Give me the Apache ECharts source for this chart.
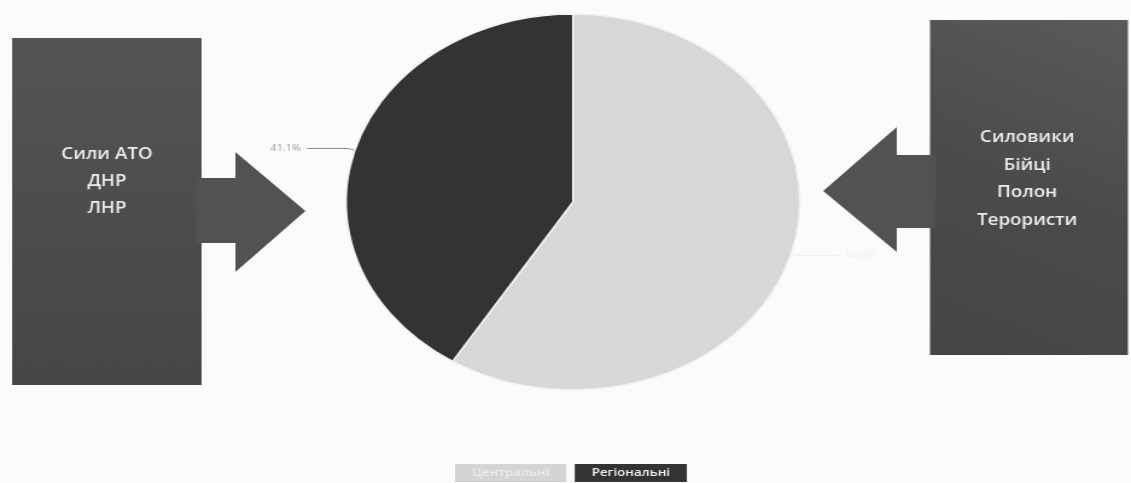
<!DOCTYPE html>
<html>
<head>
<meta charset="utf-8">
<script src="https://cdn.jsdelivr.net/npm/echarts@6/dist/echarts.min.js"></script>
<style>
html,body{margin:0;padding:0;background:#fbfbfb;overflow:hidden;}
#wrap{width:1131px;height:483px;overflow:hidden;position:relative;}
#chart{width:937px;height:483px;transform:scaleX(1.2070);transform-origin:0 0;position:absolute;left:0;top:0;}
</style>
</head>
<body>
<div id="wrap"><div id="chart"></div></div>
<script>
// Data
const categories = ['Центральні', 'Регіональні'];
const values = [58.9, 41.1];
const sliceColors = ['#d7d7d7', '#333333'];
const leftLabels = ['Сили АТО', 'ДНР', 'ЛНР'];
const rightLabels = ['Силовики', 'Бійці', 'Полон', 'Терористи'];

const chart = echarts.init(document.getElementById('chart'), null, {renderer: 'canvas'});

const legendStyles = [
  {color: '#ececec', backgroundColor: '#d4d4d4'},
  {color: '#f2f2f2', backgroundColor: '#333333'}
];

const option = {
  backgroundColor: '#fbfbfb',
  animation: false,
  legend: {
    left: 367,
    top: 459,
    orient: 'horizontal',
    itemWidth: 0,
    itemHeight: 0,
    itemGap: 2,
    selectedMode: false,
    data: categories.map((c, i) => ({
      name: c,
      icon: 'none',
      textStyle: {
        color: legendStyles[i].color,
        backgroundColor: legendStyles[i].backgroundColor,
        padding: [4, 14, 3, 14],
        fontFamily: 'Open Sans',
        fontWeight: 600,
        fontSize: 11
      }
    }))
  },
  graphic: [
    // left box
    {type: 'rect', z: 1, shape: {x: 10, y: 38, width: 157, height: 347},
     style: {fill: new echarts.graphic.LinearGradient(0, 0, 0, 1, [{offset: 0, color: '#545454'}, {offset: 1, color: '#464646'}])}},
    {type: 'polygon', z: 1, shape: {points: [[162, 178], [195, 178], [195, 152], [253, 211], [195, 272], [195, 243], [162, 243]]},
     style: {fill: '#525252'}},
    {type: 'text', z: 2, x: 88.6, y: 182,
     style: {text: leftLabels.join('\n'), fill: '#ececec', font: '600 15.5px "Open Sans"', lineHeight: 27, align: 'center', verticalAlign: 'middle'}},
    // right box
    {type: 'rect', z: 1, shape: {x: 770.5, y: 20, width: 164, height: 335},
     style: {fill: new echarts.graphic.LinearGradient(1, 0, 0, 1, [{offset: 0, color: '#5a5a5a'}, {offset: 0.5, color: '#4b4b4b'}, {offset: 1, color: '#454545'}])}},
    {type: 'polygon', z: 1, shape: {points: [[682, 191], [743, 127], [743, 155], [775, 155], [775, 228], [743, 228], [743, 252]]},
     style: {fill: '#525252'}},
    {type: 'text', z: 2, x: 851, y: 179,
     style: {text: rightLabels.join('\n'), fill: '#ececec', font: '600 15.5px "Open Sans"', lineHeight: 27.5, align: 'center', verticalAlign: 'middle'}}
  ],
  series: [{
    type: 'pie',
    center: [474.7, 202],
    radius: [0, 188],
    startAngle: 90,
    clockwise: true,
    avoidLabelOverlap: false,
    emphasis: {disabled: true},
    itemStyle: {borderColor: '#f2f2f2', borderWidth: 1.5},
    label: {
      show: true,
      position: 'outside',
      formatter: '{c}%',
      fontFamily: 'Open Sans',
      fontSize: 9,
      color: '#9a9a9a'
    },
    labelLine: {show: true, length: 6, length2: 34, lineStyle: {width: 1}},
    data: categories.map((c, i) => ({
      name: c,
      value: values[i],
      itemStyle: {color: sliceColors[i]},
      label: i === 0 ? {color: '#f0f0f0'} : {color: '#9a9a9a'},
      labelLine: {lineStyle: {color: i === 0 ? '#f0f0f0' : '#8a8a8a'}}
    }))
  }]
};
chart.setOption(option);
</script>
</body>
</html>
